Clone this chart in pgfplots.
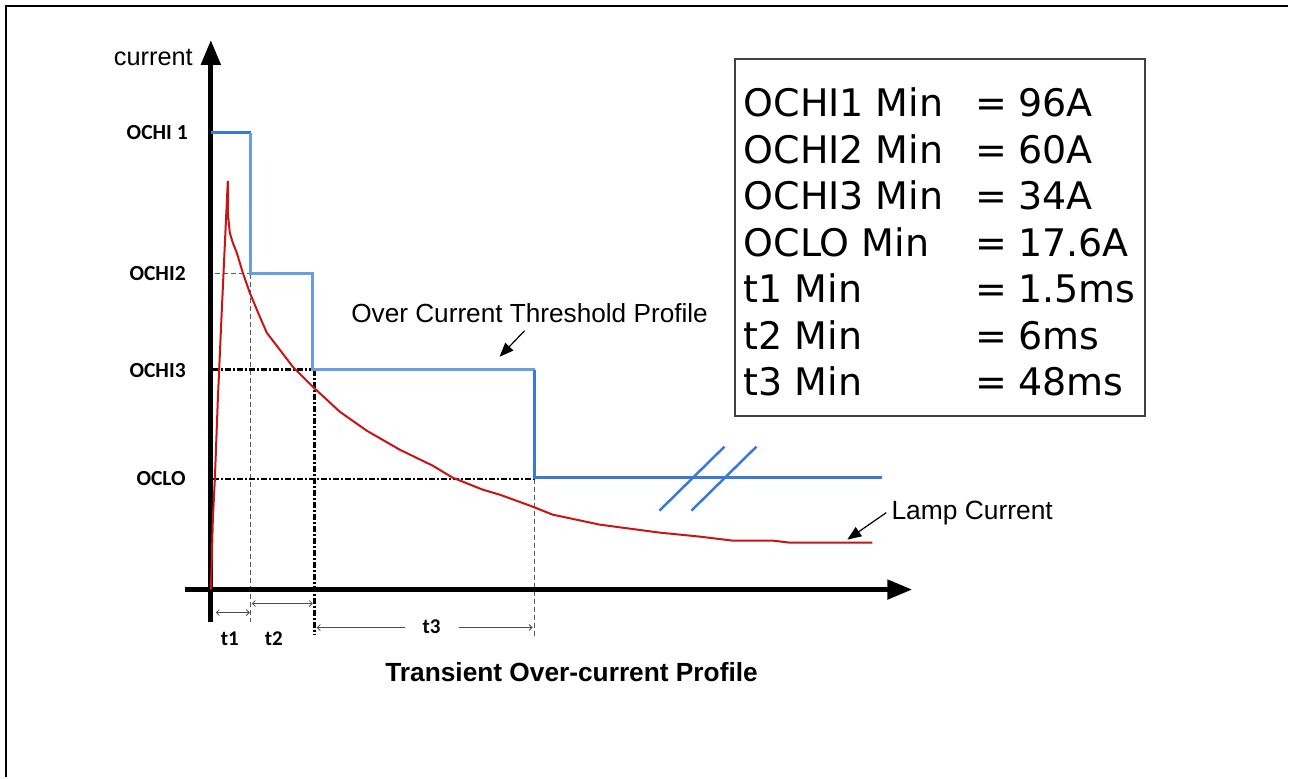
\documentclass[border=0pt]{standalone}
\usepackage{pgfplots}
\pgfplotsset{compat=1.18}
\usepackage{fontspec}
\setmainfont{Liberation Sans}
\newfontfamily\calib{Carlito}
\newfontfamily\verd{DejaVu Sans}
\usetikzlibrary{arrows.meta}
\definecolor{blueD}{RGB}{58,122,214}
\definecolor{blueL}{RGB}{105,158,226}
\definecolor{lampred}{RGB}{200,20,20}
\tikzset{boxtxt/.style={anchor=base west, inner sep=0, font=\verd\fontsize{38}{46}\selectfont}}
\begin{document}
\begin{tikzpicture}
\begin{axis}[width=1289pt,height=778pt,scale only axis,
  xmin=0,xmax=1289,ymin=0,ymax=778,y dir=reverse,hide axis,clip=false]
\path (axis cs:0,0) rectangle (axis cs:1289,778);
% frame
\draw[line width=2pt] (axis cs:6,778) -- (axis cs:6,6) -- (axis cs:1289,6);
% thin dashed guide lines
\addplot[gray!70!black, line width=1pt, dash pattern=on 5pt off 3pt] coordinates {(215,274) (251,274)};
\addplot[gray!70!black, line width=1pt, dash pattern=on 5pt off 3pt] coordinates {(251,274) (251,622)};
\addplot[gray!70!black, line width=1pt, dash pattern=on 5pt off 3pt] coordinates {(535,479) (535,636)};
% thick dash-dot guide lines
\addplot[black, line width=2.8pt, dash pattern=on 6pt off 2pt on 2pt off 2pt] coordinates {(213,370) (313,370)};
\addplot[black, line width=3pt, dash pattern=on 6pt off 2pt on 2pt off 2pt] coordinates {(315,370) (315,635)};
\addplot[black, line width=2.2pt, dash pattern=on 6pt off 2pt on 2pt off 2pt] coordinates {(213,479) (535,479)};
% main axes
\draw[line width=5pt, -{Triangle[length=25pt,width=19pt]}] (axis cs:211,622) -- (axis cs:211,40);
\draw[line width=5pt, -{Triangle[length=25pt,width=19pt]}] (axis cs:185,590) -- (axis cs:913,590);
% threshold profile
\addplot[blueD, line width=3pt] coordinates {(211,133) (251,133)};
\addplot[blueL, line width=3pt] coordinates {(251,133) (251,274) (313,274) (313,370) (535,370)};
\addplot[blueD, line width=3pt] coordinates {(535,370) (535,478) (883,478)};
% break marks
\draw[blueD, line width=2.5pt] (axis cs:660,511) -- (axis cs:725,447);
\draw[blueD, line width=2.5pt] (axis cs:692,511) -- (axis cs:757,447);
% lamp current
\addplot[lampred, line width=2pt] coordinates {
(211,590) (212,560) (213,520) (215,480) (218,400) (222,310) (225,245) (228,181)
(228.3,200) (228,213) (230,233) (233,243) (237,253) (243,273) (250,293) (260,317)
(267,333) (280,350) (293,367) (313,387) (340,412) (367,431) (400,450) (433,466)
(453,478) (483,490) (500,495) (533,507) (553,515) (600,525) (660,533) (700,537)
(733,541) (773,541) (790,543) (873,543)};
% dimension arrows
\draw[gray!60!black, line width=0.8pt, {Straight Barb[length=3pt]}-{Straight Barb[length=3pt]}] (axis cs:216,613) -- (axis cs:250,613);
\draw[gray!60!black, line width=0.8pt, {Straight Barb[length=3pt]}-{Straight Barb[length=3pt]}] (axis cs:252,604) -- (axis cs:313,604);
\draw[gray!60!black, line width=0.8pt, {Straight Barb[length=3pt]}-] (axis cs:317,628) -- (axis cs:405,628);
\draw[gray!60!black, line width=0.8pt, -{Straight Barb[length=3pt]}] (axis cs:459,628) -- (axis cs:533,628);
% labels
\node[anchor=east, inner sep=0, font=\fontsize{25.3}{30}\selectfont] at (axis cs:193,57) {current};
\node[anchor=east, inner sep=0, font=\calib\bfseries\fontsize{21.5}{24}\selectfont] at (axis cs:188,133) {OCHI 1};
\node[anchor=east, inner sep=0, font=\calib\bfseries\fontsize{21.5}{24}\selectfont] at (axis cs:186,274) {OCHI2};
\node[anchor=east, inner sep=0, font=\calib\bfseries\fontsize{21.5}{24}\selectfont] at (axis cs:186,371) {OCHI3};
\node[anchor=east, inner sep=0, font=\calib\bfseries\fontsize{21.5}{24}\selectfont] at (axis cs:186,479) {OCLO};
\node[inner sep=0, font=\calib\bfseries\fontsize{21}{24}\selectfont] at (axis cs:230,639) {t1};
\node[inner sep=0, font=\calib\bfseries\fontsize{21}{24}\selectfont] at (axis cs:274,639) {t2};
\node[inner sep=0, font=\calib\bfseries\fontsize{21}{24}\selectfont] at (axis cs:432,627) {t3};
\node[inner sep=0, font=\bfseries\fontsize{26.3}{30}\selectfont] at (axis cs:572,673) {Transient Over-current Profile};
\node[inner sep=0, font=\fontsize{26.2}{30}\selectfont] at (axis cs:530,313) {Over Current Threshold Profile};
\draw[line width=1.2pt, -{Triangle[length=14pt,width=11pt]}] (axis cs:525,331) -- (axis cs:500,357);
\node[anchor=west, inner sep=0, font=\fontsize{26.4}{30}\selectfont] at (axis cs:892,513) {Lamp Current};
\draw[line width=1.2pt, -{Triangle[length=14pt,width=11pt]}] (axis cs:887,513) -- (axis cs:848,540);
% info box
\draw[line width=2pt, black!75] (axis cs:736,59) rectangle (axis cs:1146,416);
\node[boxtxt] at (axis cs:744,117) {OCHI1 Min};
\node[boxtxt] at (axis cs:976,117) {=};
\node[boxtxt] at (axis cs:1019,117) {96A};
\node[boxtxt] at (axis cs:744,163.5) {OCHI2 Min};
\node[boxtxt] at (axis cs:976,163.5) {=};
\node[boxtxt] at (axis cs:1019,163.5) {60A};
\node[boxtxt] at (axis cs:744,210) {OCHI3 Min};
\node[boxtxt] at (axis cs:976,210) {=};
\node[boxtxt] at (axis cs:1019,210) {34A};
\node[boxtxt] at (axis cs:744,256.5) {OCLO Min};
\node[boxtxt] at (axis cs:976,256.5) {=};
\node[boxtxt] at (axis cs:1019,256.5) {17.6A};
\node[boxtxt] at (axis cs:744,303) {t1 Min};
\node[boxtxt] at (axis cs:976,303) {=};
\node[boxtxt] at (axis cs:1019,303) {1.5ms};
\node[boxtxt] at (axis cs:744,349.5) {t2 Min};
\node[boxtxt] at (axis cs:976,349.5) {=};
\node[boxtxt] at (axis cs:1019,349.5) {6ms};
\node[boxtxt] at (axis cs:744,396) {t3 Min};
\node[boxtxt] at (axis cs:976,396) {=};
\node[boxtxt] at (axis cs:1019,396) {48ms};
\end{axis}
\end{tikzpicture}
\end{document}
